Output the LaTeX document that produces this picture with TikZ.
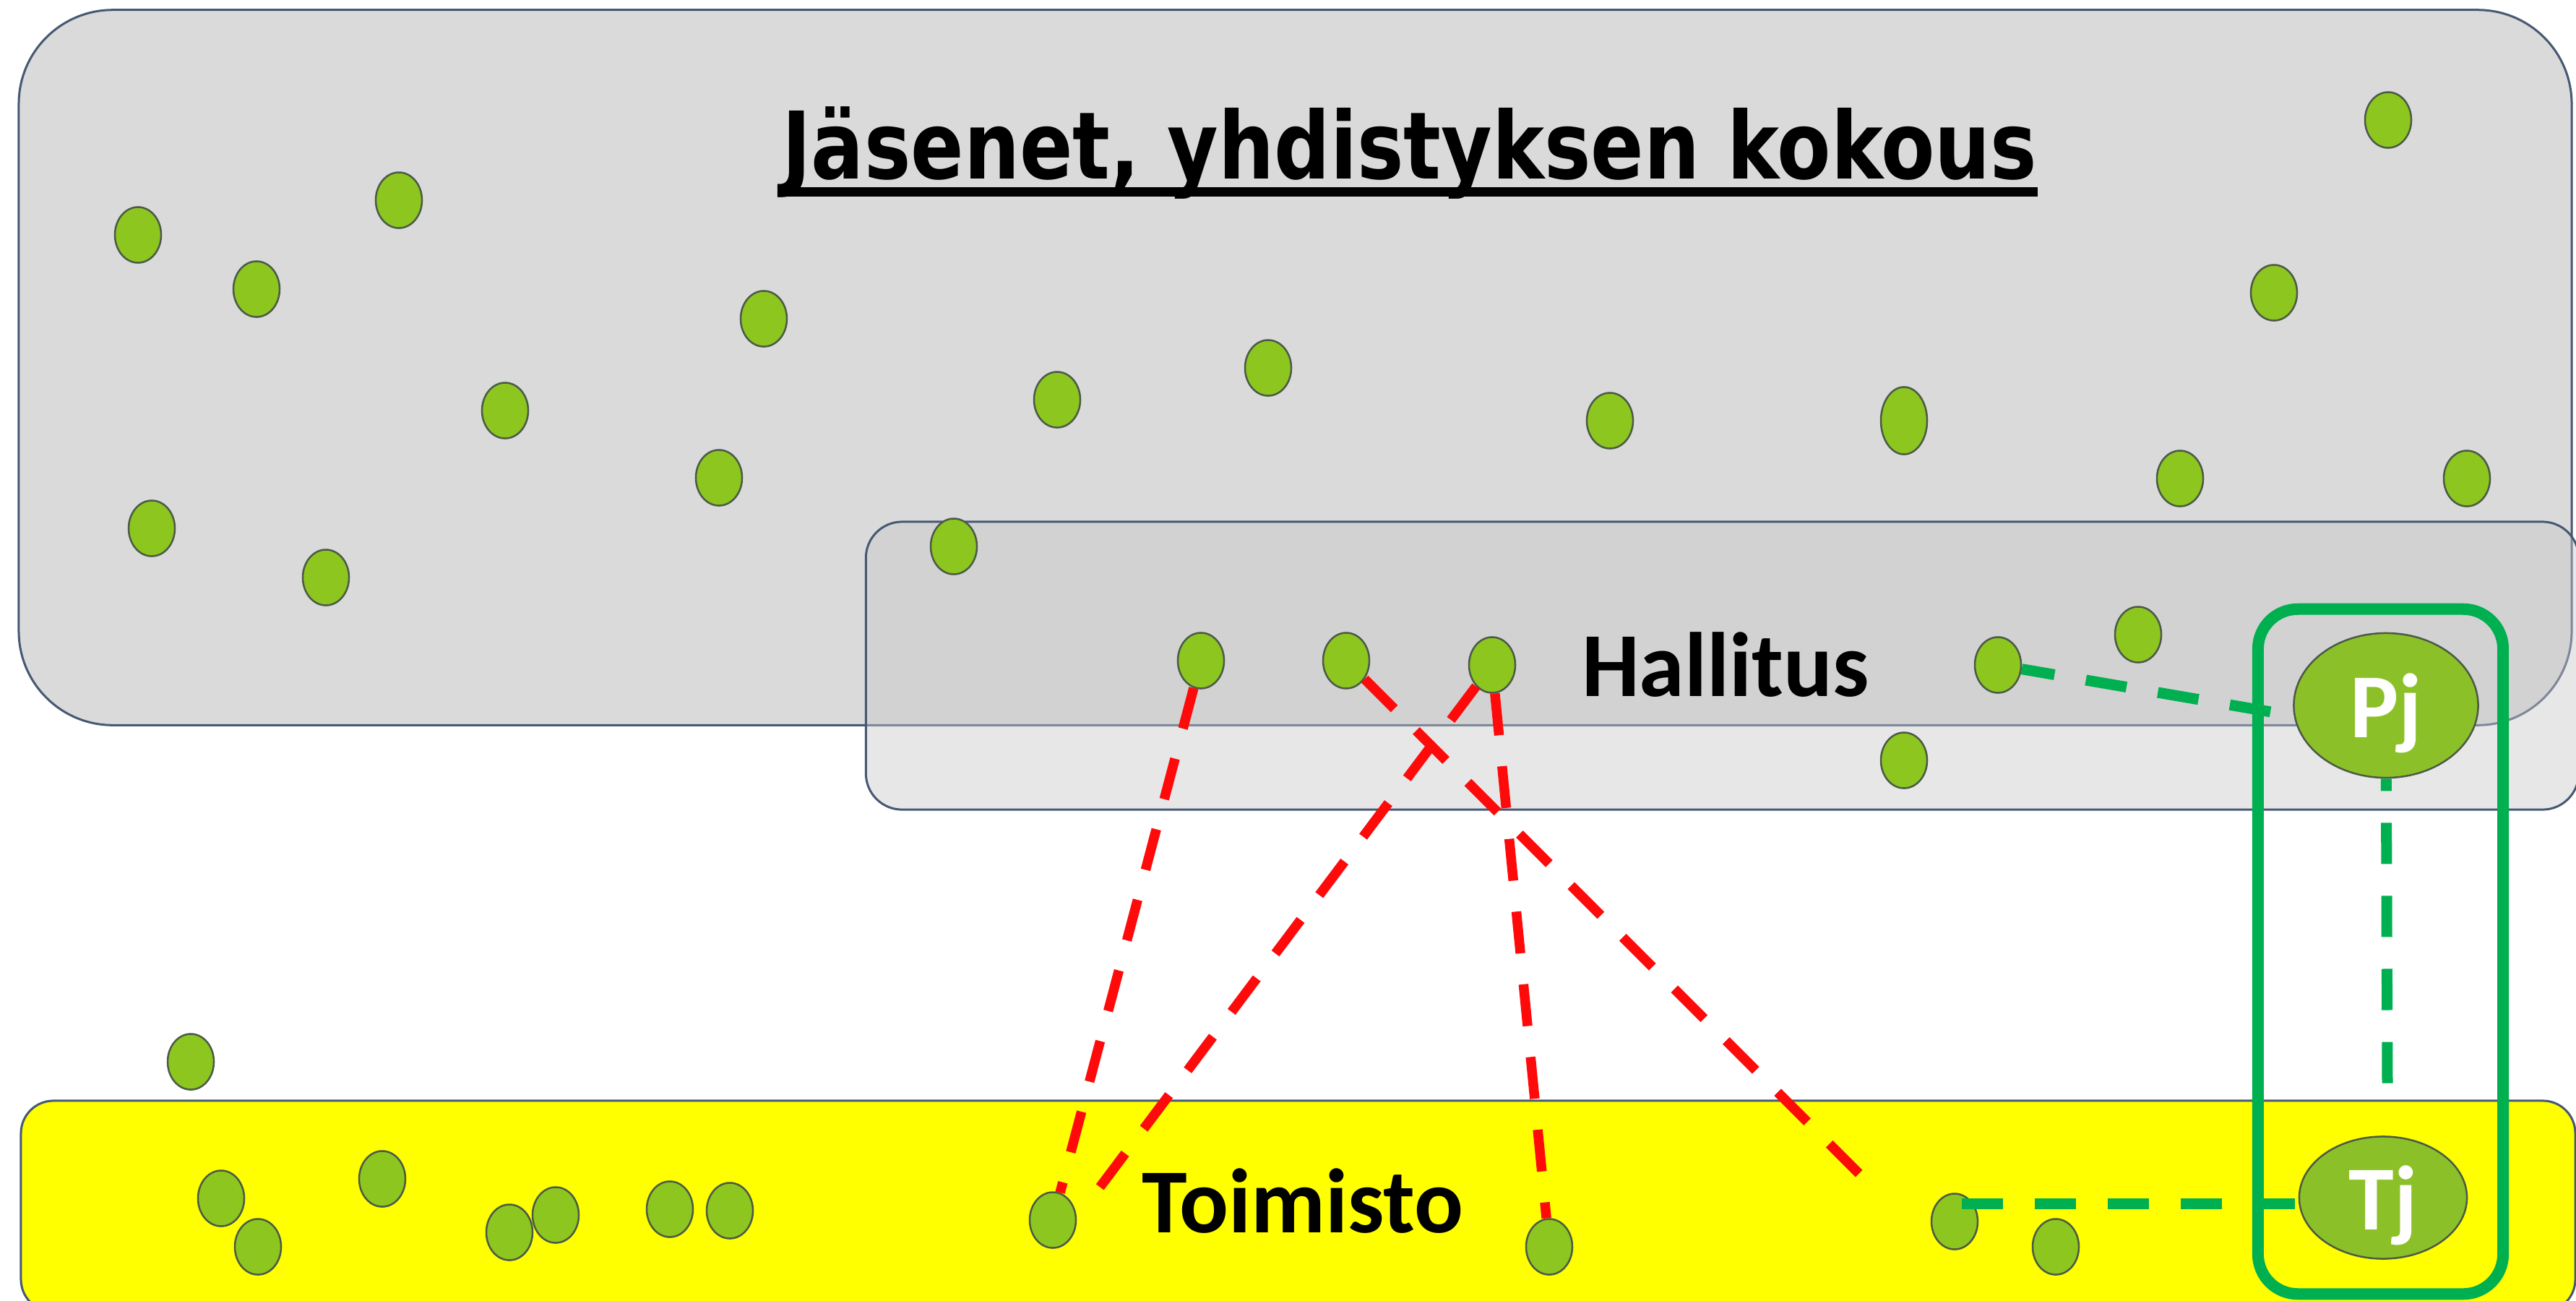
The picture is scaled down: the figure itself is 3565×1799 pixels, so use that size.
\documentclass[tikz,border=0pt]{standalone}
\usepackage{fontspec}
\usetikzlibrary{shapes.geometric}
\newfontfamily\labfont{Carlito}
\newfontfamily\ttlfont{DejaVu Sans}
\definecolor{grayfill}{RGB}{218,218,218}
\definecolor{boxline}{RGB}{70,88,115}
\definecolor{hallgray}{RGB}{201,201,203}
\definecolor{officeyellow}{RGB}{255,255,0}
\definecolor{dotgreen}{RGB}{141,198,31}
\definecolor{leadgreen}{RGB}{140,192,40}
\definecolor{dotline}{RGB}{75,90,70}
\definecolor{linkred}{RGB}{255,10,10}
\definecolor{linkgreen}{RGB}{0,176,80}
\begin{document}
\begin{tikzpicture}[x=0.01cm,y=-0.01cm,
  panel/.style={rectangle, draw=boxline, line width=0.03cm, inner sep=0pt},
  member/.style={ellipse, draw=dotline, line width=0.025cm, fill=dotgreen,
    minimum width=0.64cm, minimum height=0.77cm, inner sep=0pt},
  leader/.style={ellipse, draw=dotline, line width=0.025cm, fill=leadgreen,
    inner sep=0pt, text=white, font=\labfont\bfseries\fontsize{36}{40}\selectfont,
    text depth=0pt},
  redlink/.style={draw=linkred, line width=0.135cm, dash pattern=on 0.58cm off 0.43cm},
  greenlink/.style={draw=linkgreen, line width=0.15cm, dash pattern=on 0.57cm off 0.44cm},
  grouplabel/.style={font=\labfont\bfseries\fontsize{36}{40}\selectfont, inner sep=0pt, anchor=base}
]
\useasboundingbox (0,0) rectangle (3565,1799);
\clip (0,0) rectangle (3565,1799);
\fill[white] (0,0) rectangle (3565,1799);

% containers
\node[panel, fill=grayfill, minimum width=35.31cm, minimum height=9.89cm,
      rounded corners=1.3cm] (jasenet) at (1792.5,508.5) {};
\node[panel, fill=officeyellow, minimum width=35.33cm, minimum height=2.92cm,
      rounded corners=0.45cm] (toimisto) at (1796.5,1669) {};
\node[panel, fill=hallgray, fill opacity=0.43, minimum width=23.69cm, minimum height=3.98cm,
      rounded corners=0.5cm] (hallitus) at (2383.5,921) {};
\node[rectangle, draw=linkgreen, line width=0.16cm, rounded corners=0.55cm,
      minimum width=3.39cm, minimum height=9.47cm, inner sep=0pt] (duo) at (3294.5,1316.5) {};

% members
\foreach \n/\x/\y in {1/191/325, 2/355/400, 3/552/277, 4/699/568, 5/1057/441,
  6/995/661, 7/210/731, 8/451/799, 9/1463/553, 10/1755/509, 11/2228/582,
  13/3305/166, 14/3147/405, 15/3017/662, 16/3414/662, 17/1320/756,
  18/1662/914, 19/1863/914, 20/2065/920, 21/2765/920, 22/2959/878, 23/2635/1052,
  24/264/1469, 25/306/1658, 26/357/1725, 27/529/1631, 28/705/1705, 29/769/1681,
  30/927/1673, 31/1010/1675, 32/1457/1688, 33/2144/1725, 34/2705/1690, 35/2845/1725}
  \node[member] (d\n) at (\x,\y) {};
\node[member, minimum height=0.93cm] (d12) at (2635,582) {};

% free ends
\coordinate (bend) at (1518,1648);
\coordinate (dend) at (2581,1632);
\coordinate (pjend) at (3143,985);
\coordinate (vend) at (3304,1500);
\coordinate (tstart) at ([shift={(10,-25)}]d34.center);

% leaders
\node[leader, minimum width=2.55cm, minimum height=2.0cm] (Pj) at (3302,976) {Pj};
\node[leader, minimum width=2.32cm, minimum height=1.69cm] (Tj) at (3298,1657) {Tj};

% red links
\draw[redlink] (d18) -- (d32);
\draw[redlink] (d20) -- (bend);
\draw[redlink] (d20) -- (d33);
\draw[redlink] (d19) -- (dend);

% green links
\draw[greenlink, dash phase=0.11cm] (d21) -- (pjend);
\draw[greenlink, dash phase=0.40cm] (Pj) -- (vend);
\draw[greenlink] (tstart) -- (tstart -| Tj.west);

% labels
\node[anchor=base, inner sep=0pt, font=\ttlfont\bfseries\fontsize{36.7}{40}\selectfont]
  (title) at (1951,247) {\scalebox{0.84}[1]{Jäsenet, yhdistyksen kokous}};
\draw[line width=0.13cm] ([yshift=-0.185cm]title.base west) -- ([yshift=-0.185cm]title.base east);
\node[grouplabel] (hlabel) at (2388,963) {Hallitus};
\node[grouplabel] (tlabel) at (1803,1705) {Toimisto};
\end{tikzpicture}
\end{document}
